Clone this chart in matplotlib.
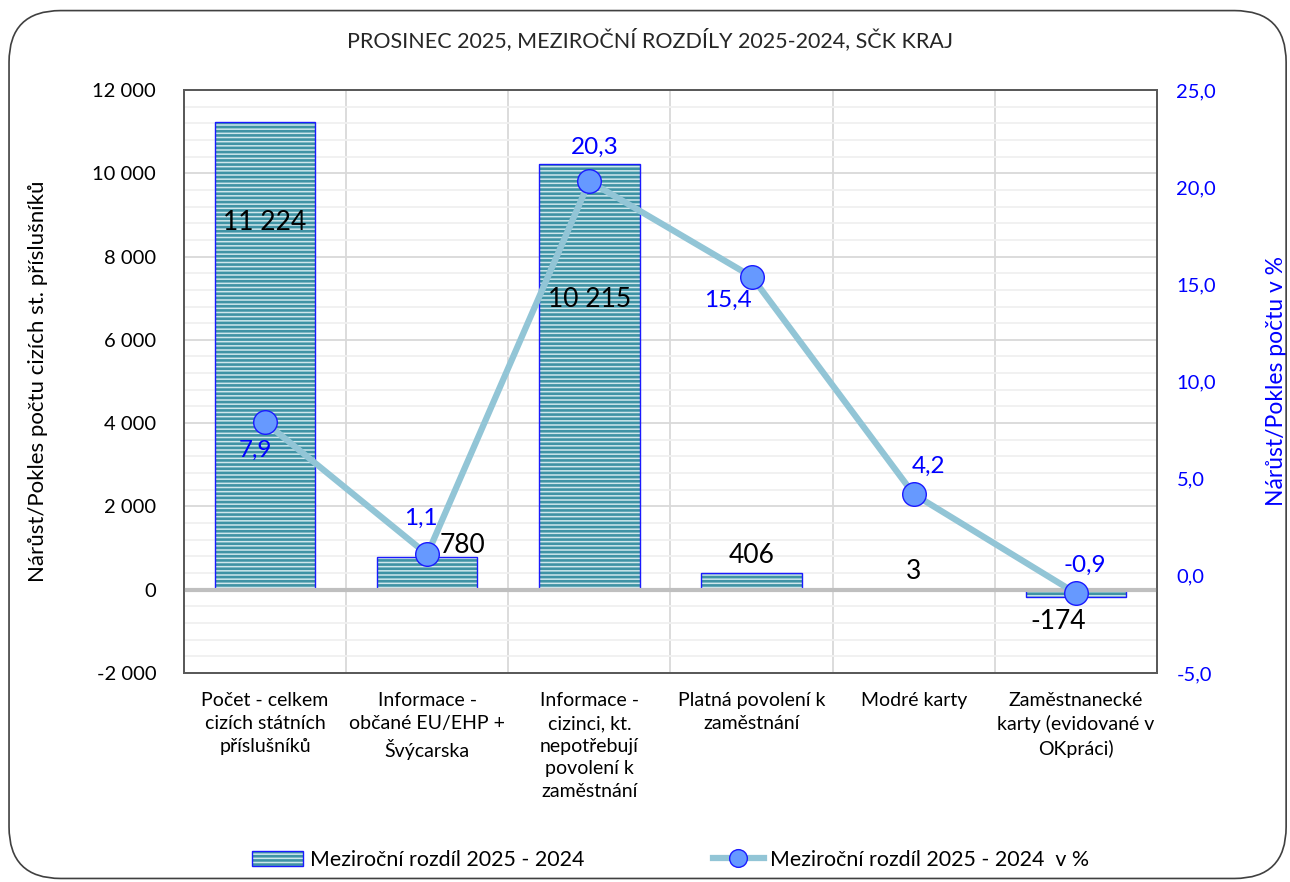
import matplotlib.pyplot as plt
import numpy as np
from matplotlib.patches import FancyBboxPatch

plt.rcParams['font.family'] = ['Lato', 'DejaVu Sans']
plt.rcParams['hatch.linewidth'] = 1.9

kategorie = ["Počet - celkem\ncizích státních\npříslušníků",
             "Informace -\nobčané EU/EHP +\nŠvýcarska",
             "Informace -\ncizinci, kt.\nnepotřebují\npovolení k\nzaměstnání",
             "Platná povolení k\nzaměstnání",
             "Modré karty",
             "Zaměstnanecké\nkarty (evidované v\nOKpráci)"]
rozdil = [11224, 780, 10215, 406, 3, -174]
rozdil_pct = [7.9, 1.1, 20.3, 15.4, 4.2, -0.9]
rozdil_txt = ["11 224", "780", "10 215", "406", "3", "-174"]

# posuny popisku v pixelech
posun_bar = [(0, -100), (35, 12), (0, -135), (0, 17), (0, 18), (-18, -25)]
posun_pct = [(-10, -28), (-6, 36), (5, 34), (-24, -24), (15, 28), (9, 28)]

fig = plt.figure(figsize=(12.9, 8.82), dpi=100)
ramecek = FancyBboxPatch((0.007, 0.004), 0.99, 0.984, boxstyle="round,pad=0,rounding_size=0.04",
                         transform=fig.transFigure, facecolor='none', edgecolor='#404040',
                         linewidth=1.2, mutation_aspect=1290/882)
fig.patches.append(ramecek)

ax = fig.add_axes([0.1426, 0.237, 0.7543, 0.661])
x = np.arange(len(kategorie))

ax.set_ylim(-2000, 12000)
ax.set_xlim(-0.5, len(kategorie) - 0.5)
ax.set_yticks(np.arange(-2000, 12001, 2000))
ax.set_yticks(np.arange(-2000, 12001, 400), minor=True)
ax.set_yticklabels([f"{v:,}".replace(",", " ") for v in range(-2000, 12001, 2000)], fontsize=14.5)
ax.tick_params(axis='y', which='both', length=0, pad=20)
ax.tick_params(axis='x', length=0, pad=14)
ax.grid(True, axis='y', which='minor', color='#f0f0f0', linewidth=1.3, zorder=0)
ax.grid(True, axis='y', which='major', color='#d9d9d9', linewidth=1.3, zorder=0)
for b in np.arange(0.5, len(kategorie) - 0.5, 1):
    ax.axvline(b, color='#d9d9d9', linewidth=1.3, zorder=0)
ax.axhline(0, color='#bfbfbf', linewidth=3, zorder=3.5)
ax.set_axisbelow(True)

sloupce = ax.bar(x, rozdil, width=0.62, facecolor='#cfe7ec', edgecolor='#3f93a5', linewidth=0,
                 hatch='----', zorder=2)
okraje = ax.bar(x, rozdil, width=0.62, facecolor='none', edgecolor='#1a1aff', linewidth=1, zorder=3)
ax.set_xticks(x)
ax.set_xticklabels(kategorie, fontsize=14, linespacing=1.4, va='top')

for i in range(len(rozdil)):
    ax.annotate(rozdil_txt[i], (x[i], rozdil[i]), xytext=posun_bar[i], textcoords='offset pixels',
                ha='center', va='center', fontsize=19, color='black', zorder=5)

for s in ax.spines.values():
    s.set_color('#595959')
    s.set_linewidth(1.3)

ax.set_ylabel("Nárůst/Pokles počtu cizích st. příslušníků", fontsize=16, labelpad=32)

ax2 = ax.twinx()
ax2.set_ylim(-5, 25)
ax2.set_yticks(np.arange(-5, 26, 5))
ax2.set_yticklabels([f"{v:.1f}".replace(".", ",") for v in np.arange(-5, 26, 5)],
                    fontsize=14.5, color='#0000ff')
ax2.tick_params(axis='y', length=0, pad=14)
cara, = ax2.plot(x, rozdil_pct, color='#92c5d6', linewidth=4.5, marker='o', markersize=17,
                 markerfacecolor='#6699ff', markeredgecolor='#1a1aff', markeredgewidth=1, zorder=4)
for i in range(len(rozdil_pct)):
    ax2.annotate(f"{rozdil_pct[i]:.1f}".replace(".", ","), (x[i], rozdil_pct[i]), xytext=posun_pct[i],
                 textcoords='offset pixels', ha='center', va='center', fontsize=17.5, color='#0000ff')
ax2.set_ylabel("Nárůst/Pokles počtu v %", fontsize=16.5, color='#0000ff', labelpad=36)
for s in ax2.spines.values():
    s.set_color('#595959')
    s.set_linewidth(1.3)

fig.text(0.504, 0.955, "PROSINEC 2025, MEZIROČNÍ ROZDÍLY 2025-2024, SČK KRAJ",
         ha='center', va='center', fontsize=15.5, color='#262626')

fig.legend([(sloupce[0], okraje[0]), cara],
           ["Meziroční rozdíl 2025 - 2024", "Meziroční rozdíl 2025 - 2024  v %"],
           loc='center', bbox_to_anchor=(0.52, 0.025), ncol=2, frameon=False, markerscale=0.75,
           fontsize=15.4, columnspacing=6, handlelength=2.4, handletextpad=0.3)

fig.savefig("out.png", dpi=100)
